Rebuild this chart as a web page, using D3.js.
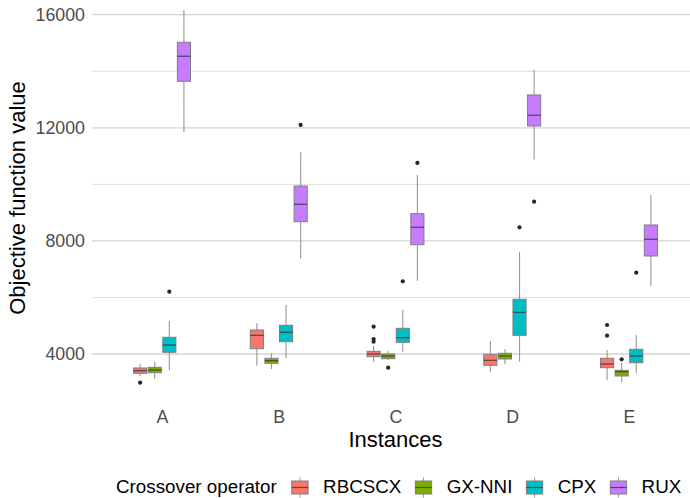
<!DOCTYPE html>
<html>
<head>
<meta charset="utf-8">
<script src="https://cdn.jsdelivr.net/npm/d3@7"></script>
<style>
  body { margin: 0; background: #fff; }
  svg { display: block; font-family: "Liberation Sans", Arial, sans-serif; }
</style>
</head>
<body>
<div id="chart"></div>
<script>
// instances and crossover operators
const instances = ["A", "B", "C", "D", "E"];
const operators = ["RBCSCX", "GX-NNI", "CPX", "RUX"];
const colors = ["#F8766D", "#7CAE00", "#00BFC4", "#C77CFF"];

// [lower whisker, q1, median, q3, upper whisker] for A..E
const rbcscx = [[3222, 3317, 3409, 3505, 3646], [3586, 4187, 4661, 4849, 5086], [3728, 3905, 4000, 4095, 4283], [3374, 3600, 3777, 3989, 4460], [3080, 3515, 3646, 3848, 4141]];
const gxnni  = [[3116, 3339, 3434, 3530, 3728], [3469, 3671, 3763, 3848, 4025], [3788, 3834, 3929, 4000, 4106], [3636, 3823, 3929, 4025, 4166], [2999, 3222, 3374, 3423, 3692]];
const cpx    = [[3434, 4060, 4318, 4591, 5167], [3869, 4435, 4768, 5015, 5733], [4060, 4414, 4577, 4909, 5556], [3728, 4661, 5475, 5935, 7618], [3317, 3692, 3929, 4166, 4672]];
const rux    = [[11841, 13645, 14530, 15025, 16167], [7385, 8680, 9295, 9942, 11134], [6593, 7866, 8481, 8962, 10331], [10886, 12064, 12443, 13161, 14045], [6405, 7466, 8057, 8563, 9624]];

// outliers: [instance, value]
const rbcscxOut = [["A", 2985], ["C", 4966], ["C", 4531], ["C", 4435], ["E", 5026], ["E", 4647]];
const gxnniOut  = [["C", 3515], ["E", 3812]];
const cpxOut    = [["A", 6203], ["C", 6571], ["D", 8481], ["E", 6876]];
const ruxOut    = [["B", 12100], ["C", 10756], ["D", 9387]];

const yMajor = [4000, 8000, 12000, 16000];
const yMinor = [6000, 10000, 14000];

const stats = [rbcscx, gxnni, cpx, rux];
const outs = [rbcscxOut, gxnniOut, cpxOut, ruxOut];

const width = 690, height = 498;
const panel = { left: 92, right: 699, top: 0, bottom: 402 };

const svg = d3.select("#chart").append("svg")
  .attr("width", width)
  .attr("height", height);

const x = d3.scalePoint()
  .domain(instances)
  .range([panel.left, panel.right])
  .padding(0.6);

const sub = d3.scaleBand()
  .domain(operators)
  .range([-x.step() * 0.25, x.step() * 0.25]);

const y = d3.scaleLinear()
  .domain([4000, 16000])
  .range([354, 14.7]);

// grid
svg.append("g").selectAll("line")
  .data(yMinor)
  .join("line")
  .attr("x1", panel.left).attr("x2", width)
  .attr("y1", d => y(d)).attr("y2", d => y(d))
  .attr("stroke", "#dcdcdc").attr("stroke-width", 1);

svg.append("g").selectAll("line")
  .data(yMajor)
  .join("line")
  .attr("x1", panel.left).attr("x2", width)
  .attr("y1", d => y(d)).attr("y2", d => y(d))
  .attr("stroke", "#d3d3d3").attr("stroke-width", 1.3);

// axes
const yAxis = svg.append("g")
  .attr("transform", `translate(${panel.left},0)`)
  .call(d3.axisLeft(y).tickValues(yMajor).tickSize(0).tickPadding(7).tickFormat(d3.format("d")));
yAxis.select(".domain").remove();
yAxis.selectAll("text")
  .attr("fill", "#4d4d4d")
  .style("font-size", "17.8px")
  .style("font-family", "Liberation Sans, Arial, sans-serif");

const xAxis = svg.append("g")
  .attr("transform", `translate(0,${panel.bottom})`)
  .call(d3.axisBottom(x).tickSize(0).tickPadding(8));
xAxis.select(".domain").remove();
xAxis.selectAll("text")
  .attr("fill", "#4d4d4d")
  .style("font-size", "17.8px")
  .style("font-family", "Liberation Sans, Arial, sans-serif");

// titles
svg.append("text")
  .attr("x", (panel.left + panel.right) / 2)
  .attr("y", 446.7)
  .attr("text-anchor", "middle")
  .style("font-size", "22px")
  .text("Instances");

svg.append("text")
  .attr("transform", "translate(24.5,198) rotate(-90)")
  .attr("text-anchor", "middle")
  .style("font-size", "22px")
  .text("Objective function value");

// boxes
const boxW = sub.bandwidth() * 0.9;
operators.forEach((op, i) => {
  const rows = instances.map((inst, j) => ({ inst, s: stats[i][j] }));
  const g = svg.append("g");
  const cx = d => x(d.inst) + sub(op) + sub.bandwidth() / 2;

  g.selectAll("line.whi")
    .data(rows)
    .join("line")
    .attr("class", "whi")
    .attr("x1", cx).attr("x2", cx)
    .attr("y1", d => y(d.s[0])).attr("y2", d => y(d.s[4]))
    .attr("stroke", "#979797").attr("stroke-width", 1.1);

  g.selectAll("rect")
    .data(rows)
    .join("rect")
    .attr("x", d => cx(d) - boxW / 2)
    .attr("width", boxW)
    .attr("y", d => y(d.s[3]))
    .attr("height", d => y(d.s[1]) - y(d.s[3]))
    .attr("fill", colors[i])
    .attr("stroke", "#7f7f7f").attr("stroke-width", 1);

  g.selectAll("line.med")
    .data(rows)
    .join("line")
    .attr("class", "med")
    .attr("x1", d => cx(d) - boxW / 2).attr("x2", d => cx(d) + boxW / 2)
    .attr("y1", d => y(d.s[2])).attr("y2", d => y(d.s[2]))
    .attr("stroke", "#333").attr("stroke-opacity", 0.75).attr("stroke-width", 1.3);

  g.selectAll("circle")
    .data(outs[i])
    .join("circle")
    .attr("cx", d => x(d[0]) + sub(op) + sub.bandwidth() / 2)
    .attr("cy", d => y(d[1]))
    .attr("r", 2.1)
    .attr("fill", "#262626");
});

// legend
const legend = svg.append("g").attr("transform", "translate(116,0)");
const legTitle = legend.append("text")
  .attr("x", 0).attr("y", 493.3)
  .style("font-size", "18.8px")
  .text("Crossover operator");
let lx = legTitle.node().getComputedTextLength() + 14.5;
const keyW = 17.3, keyMid = 487.5;
operators.forEach((op, i) => {
  const k = legend.append("g").attr("transform", `translate(${lx},0)`);
  k.append("line")
    .attr("x1", keyW / 2).attr("x2", keyW / 2)
    .attr("y1", keyMid - 10).attr("y2", keyMid + 10)
    .attr("stroke", "#979797").attr("stroke-width", 1);
  k.append("rect")
    .attr("x", 0.5).attr("y", keyMid - 6.5)
    .attr("width", keyW - 1).attr("height", 13)
    .attr("fill", colors[i])
    .attr("stroke", "#7f7f7f").attr("stroke-width", 1);
  k.append("line")
    .attr("x1", 0.5).attr("x2", keyW - 0.5)
    .attr("y1", keyMid).attr("y2", keyMid)
    .attr("stroke", "#333").attr("stroke-opacity", 0.75).attr("stroke-width", 1.2);
  const t = legend.append("text")
    .attr("x", lx + keyW + 14.5).attr("y", 493.3)
    .style("font-size", "18.8px")
    .text(op);
  lx += keyW + 14.5 + t.node().getComputedTextLength() + 13.5;
});
</script>
</body>
</html>
